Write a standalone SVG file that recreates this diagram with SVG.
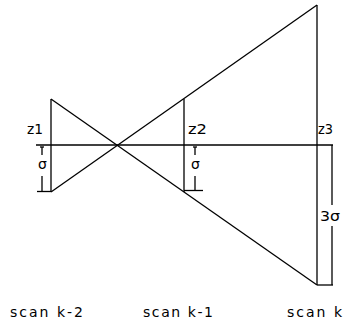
<svg xmlns="http://www.w3.org/2000/svg" width="343" height="326" viewBox="0 0 343 326">
<style>
.ln{stroke:#000;stroke-width:1.3;fill:none}
.t{font-family:"DejaVu Sans","Liberation Sans",sans-serif;font-size:14px;fill:#000}
</style>
<rect width="343" height="326" fill="#fff"/>
<g id="connectors">
<line class="ln" x1="36" y1="145" x2="333" y2="145"/>
<line class="ln" x1="51" y1="99" x2="317" y2="285"/>
<line class="ln" x1="51" y1="192" x2="317" y2="5"/>
</g>
<g id="scan-k-2">
<line class="ln" x1="51" y1="99" x2="51" y2="192"/>
<text class="t" x="27" y="134" textLength="16" lengthAdjust="spacingAndGlyphs">z1</text>
<line class="ln" x1="42" y1="147" x2="42" y2="155"/>
<line class="ln" x1="40" y1="147" x2="44" y2="147"/>
<text class="t" x="38" y="169">σ</text>
<line class="ln" x1="42" y1="176" x2="42" y2="191"/>
<line class="ln" x1="37" y1="191.5" x2="51" y2="191.5"/>
<text class="t" x="10" y="317" textLength="73" lengthAdjust="spacing">scan k-2</text>
</g>
<g id="scan-k-1">
<line class="ln" x1="184" y1="99" x2="184" y2="192"/>
<text class="t" x="188" y="134" textLength="19" lengthAdjust="spacingAndGlyphs">z2</text>
<line class="ln" x1="195" y1="147" x2="195" y2="155"/>
<line class="ln" x1="193" y1="147" x2="197" y2="147"/>
<text class="t" x="191" y="169">σ</text>
<line class="ln" x1="195" y1="176" x2="195" y2="190"/>
<line class="ln" x1="184" y1="190.5" x2="203" y2="190.5"/>
<text class="t" x="143" y="317" textLength="70" lengthAdjust="spacing">scan k-1</text>
</g>
<g id="scan-k">
<line class="ln" x1="317" y1="5" x2="317" y2="285"/>
<text class="t" x="318" y="134" textLength="15" lengthAdjust="spacingAndGlyphs">z3</text>
<line class="ln" x1="332" y1="145" x2="332" y2="205"/>
<text class="t" x="320" y="221" textLength="20" lengthAdjust="spacingAndGlyphs">3σ</text>
<line class="ln" x1="332" y1="226" x2="332" y2="285"/>
<line class="ln" x1="317" y1="285" x2="333" y2="285"/>
<text class="t" x="287" y="317" textLength="55" lengthAdjust="spacing">scan k</text>
</g>
</svg>
